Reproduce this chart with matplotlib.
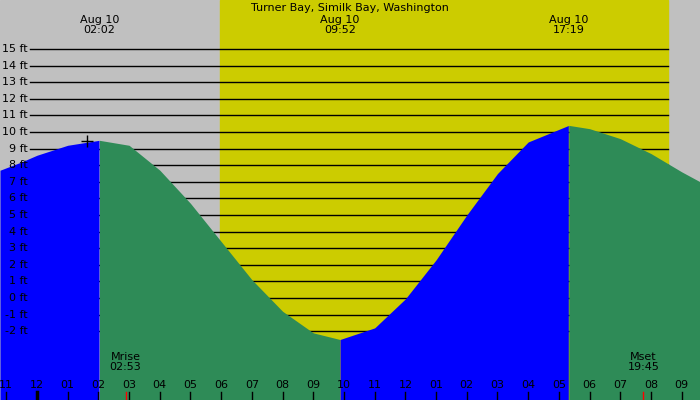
import numpy as np
import matplotlib
matplotlib.use("Agg")
import matplotlib.pyplot as plt

title = "Turner Bay, Similk Bay, Washington"
hours = [-1.2, -0.5, 0, 1, 2.03, 3, 4, 5, 6, 7, 8, 9, 9.87, 11, 12, 13, 14, 15, 16, 17.32, 18, 19, 20, 21, 21.6]
heights = [7.7, 8.2, 8.6, 9.2, 9.5, 9.2, 7.7, 5.7, 3.4, 1.1, -0.8, -2.1, -2.5, -1.8, -0.05, 2.3, 5.0, 7.5, 9.4, 10.4, 10.2, 9.6, 8.7, 7.6, 7.0]
extreme_times = [2.033, 9.867, 17.317]
extreme_labels = ["02:02", "09:52", "17:19"]
ft_levels = list(range(-2, 16))
hour_ticks = list(range(-1, 22))
sunrise, sunset = 5.96, 20.55
moonrise, moonset = 2.883, 19.75

px = 30.7  # px per hour
x0 = -37 / px
x1 = (700 - 37) / px
fpx = 16.6
ytop = 10 + 132 / fpx
ybot = 10 - (400 - 132) / fpx

fig = plt.figure(figsize=(7, 4), dpi=100)
ax = fig.add_axes([0, 0, 1, 1])
ax.set_xlim(x0, x1)
ax.set_ylim(ybot, ytop)
ax.axis("off")
ax.add_patch(plt.Rectangle((x0, ybot), x1 - x0, ytop - ybot, color="#c0c0c0", zorder=0))
ax.axvspan(sunrise, sunset, color="#cccc00", zorder=0.5)

for f in ft_levels:
    ax.plot([x0 + 30 / px, sunset], [f, f], color="black", lw=1, zorder=1)
    ax.text(x0 + 28 / px, f, f"{f} ft", ha="right", va="center", fontsize=8, zorder=3)

t = np.linspace(x0, x1, 1500)
h = np.interp(t, hours, heights)
bounds = [x0] + extreme_times + [x1]
cols = ["#0000ff", "#2e8b57", "#0000ff", "#2e8b57"]
for i in range(4):
    m = (t >= bounds[i]) & (t <= bounds[i + 1])
    ax.fill_between(t[m], ybot, h[m], color=cols[i], lw=0, zorder=2)

ax.plot([1.63], [9.45], marker="+", color="black", ms=8, zorder=3)

ax.text((x0 + x1) / 2, ytop - 8 / fpx, title, ha="center", va="center", fontsize=8)
for tt, lab in zip(extreme_times, extreme_labels):
    ax.text(tt, ytop - 25 / fpx, "Aug 10\n" + lab, ha="center", va="center", fontsize=8, linespacing=1.0)

for hr in hour_ticks:
    lab = f"{(hr - 1) % 12 + 1:02d}"
    ax.text(hr, ybot + 15 / fpx, lab, ha="center", va="center", fontsize=8, zorder=3)
    ax.plot([hr, hr], [ybot, ybot + 8 / fpx], color="black", lw=2.5 if hr == 0 else 1, zorder=3)

for mt, name, lab in [(moonrise, "Mrise", "02:53"), (moonset, "Mset", "19:45")]:
    ax.plot([mt, mt], [ybot, ybot + 8 / fpx], color="red", lw=1, zorder=3)
    ax.text(mt, ybot + 38 / fpx, name + "\n" + lab, ha="center", va="center", fontsize=8, linespacing=1.0, zorder=3)

fig.savefig("out.png", dpi=100)
